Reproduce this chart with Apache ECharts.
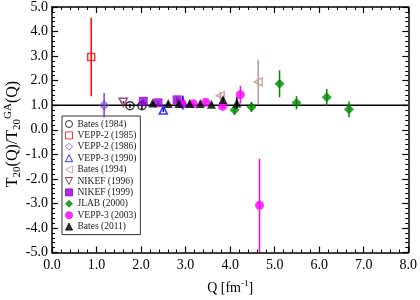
<!DOCTYPE html>
<html>
<head>
<meta charset="utf-8">
<script src="https://cdn.jsdelivr.net/npm/echarts@6/dist/echarts.min.js"></script>
<style>html,body{margin:0;padding:0;background:#fff}#c{width:420px;height:300px}</style>
</head>
<body>
<div id="c"></div>
<script>
// [Q, T20/T20GA, error]
const bates1984 = [[1.75, 0.98, 0.08], [2.02, 0.98, 0.15]];
const vepp2_1985 = [[0.88, 2.96, 1.6]];
const vepp2_1986 = [[1.17, 1.0, 0.5]];
const vepp3_1990 = [[2.50, 0.80, 0.08], [2.94, 1.10, 0.28]];
const bates1994 = [[3.78, 1.39, 0.15], [4.63, 1.95, 0.9]];
const nikef1996 = [[1.60, 1.12, 0.05]];
const nikef1999 = [[2.05, 1.16, 0.08], [2.38, 1.10, 0.06], [2.81, 1.22, 0.1]];
const jlab2000 = [[4.10, 0.80, 0.2], [4.48, 0.93, 0.2], [5.11, 1.87, 0.55], [5.49, 1.10, 0.27], [6.17, 1.32, 0.34], [6.67, 0.83, 0.32]];
const vepp3_2003 = [[2.92, 1.06, 0.05], [3.17, 1.06, 0.05], [3.45, 1.12, 0.05], [3.83, 0.95, 0.08], [4.23, 1.43, 0.36], [4.66, -3.08, 1.9]];
const bates2011 = [[2.26, 1.09, 0.04], [2.61, 1.07, 0.04], [2.85, 1.07, 0.04], [3.09, 1.07, 0.04], [3.33, 1.07, 0.04], [3.58, 1.04, 0.05], [3.84, 1.23, 0.08], [4.15, 1.09, 0.23]];
const refLine = [[0, 1], [8, 1]];
const xTicks = {min: 0, max: 8, interval: 1};
const yTicks = {min: -5, max: 5, interval: 1};

const datasets = [
  {name: 'Bates (1984)', data: bates1984, symbol: 'circle', color: '#000000', open: true, size: 8},
  {name: 'VEPP-2 (1985)', data: vepp2_1985, symbol: 'rect', color: '#ff0000', open: true, size: 7},
  {name: 'VEPP-2 (1986)', data: vepp2_1986, symbol: 'diamond', color: '#7f3fe0', open: true, size: 8},
  {name: 'VEPP-3 (1990)', data: vepp3_1990, symbol: 'triangle', color: '#0000ff', open: true, size: 8},
  {name: 'Bates (1994)', data: bates1994, symbol: 'path://M0,5 L10,0 L10,10 Z', color: '#c09494', open: true, size: 8},
  {name: 'NIKEF (1996)', data: nikef1996, symbol: 'path://M0,0 L10,0 L5,10 Z', color: '#7a1f4f', open: true, size: 8},
  {name: 'NIKEF (1999)', data: nikef1999, symbol: 'rect', color: '#9400d3', open: false, size: 9},
  {name: 'JLAB (2000)', data: jlab2000, symbol: 'diamond', color: '#008800', open: false, size: 10},
  {name: 'VEPP-3 (2003)', data: vepp3_2003, symbol: 'circle', color: '#ff00ff', open: false, size: 9},
  {name: 'Bates (2011)', data: bates2011, symbol: 'triangle', color: '#000000', open: false, size: 9}
];

const FONT = 'Liberation Serif';
const series = [];
series.push({
  type: 'line', data: refLine, symbol: 'none', silent: true,
  lineStyle: {color: '#000', width: 1.5}, z: 1
});
datasets.forEach((d, i) => {
  series.push({
    type: 'custom', name: 'err' + i, z: 2 + i * 2,
    data: d.data,
    renderItem: function (params, api) {
      const x = api.value(0), v = api.value(1), e = api.value(2);
      const lo = Math.max(-5, v - e), hi = Math.min(5, v + e);
      const p1 = api.coord([x, lo]), p2 = api.coord([x, hi]);
      return {type: 'line', shape: {x1: p1[0], y1: p1[1], x2: p2[0], y2: p2[1]},
        style: {stroke: d.color, lineWidth: 1.5}};
    },
    encode: {x: 0, y: 1}
  });
  series.push({
    type: 'scatter', name: d.name, z: 3 + i * 2,
    data: d.data.map(p => [p[0], p[1]]),
    symbol: d.symbol, symbolSize: d.size,
    itemStyle: d.open ? {color: 'rgba(255,255,255,0)', borderColor: d.color, borderWidth: 1.5}
                      : {color: d.color, borderColor: d.color, borderWidth: 0}
  });
});

function mkX(pos, labels) {
  return {
    type: 'value', position: pos, min: xTicks.min, max: xTicks.max, interval: xTicks.interval,
    axisLine: {show: true, onZero: false, lineStyle: {color: '#000', width: 1.5}},
    axisTick: {show: true, inside: true, length: 6, lineStyle: {color: '#000', width: 1.2}},
    minorTick: {show: true, splitNumber: 5, length: 3, lineStyle: {color: '#000', width: 1}},
    splitLine: {show: false}, minorSplitLine: {show: false},
    axisLabel: {show: labels, formatter: v => v.toFixed(1), fontFamily: FONT, fontSize: 14, color: '#000', margin: 6},
    name: labels ? 'Q [fm{sup|-1}]' : '', nameLocation: 'middle', nameGap: 27,
    nameTextStyle: {fontFamily: FONT, fontSize: 14, color: '#000',
      rich: {sup: {fontFamily: FONT, fontSize: 9, verticalAlign: 'top', padding: [0, 0, 8, 0], color: '#000'}}}
  };
}
function mkY(pos, labels) {
  return {
    type: 'value', position: pos, min: yTicks.min, max: yTicks.max, interval: yTicks.interval,
    axisLine: {show: true, onZero: false, lineStyle: {color: '#000', width: 1.5}},
    axisTick: {show: true, inside: true, length: 6, lineStyle: {color: '#000', width: 1.2}},
    minorTick: {show: true, splitNumber: 5, length: 3, lineStyle: {color: '#000', width: 1}},
    splitLine: {show: false}, minorSplitLine: {show: false},
    axisLabel: {show: labels, formatter: v => v.toFixed(1), fontFamily: FONT, fontSize: 14, color: '#000', margin: 4}
  };
}

const option = {
  animation: false,
  backgroundColor: '#fff',
  grid: {left: 52, right: 11, top: 6, bottom: 43, containLabel: false},
  xAxis: [mkX('bottom', true), mkX('top', false)],
  yAxis: [mkY('left', true), mkY('right', false)],
  graphic: [{
    type: 'text', x: 13, y: 134, rotation: Math.PI / 2,
    style: {
      text: 'T{sub|20}(Q)/T{sub|20}{sup|GA}(Q)',
      align: 'center', verticalAlign: 'middle',
      fontFamily: FONT, fontSize: 16, fill: '#000',
      rich: {
        sub: {fontFamily: FONT, fontSize: 11, fill: '#000', padding: [9, 0, 0, 0]},
        sup: {fontFamily: FONT, fontSize: 11, fill: '#000', padding: [0, 0, 9, 0]}
      }
    }
  }],
  legend: {
    data: datasets.map(d => d.name),
    orient: 'vertical', left: 62, top: 116,
    itemWidth: 7, itemHeight: 7, itemGap: 1.4, itemTextGap: 15,
    padding: [3, 4, 3, 3],
    borderColor: '#333', borderWidth: 1, backgroundColor: '#fff',
    itemStyle: {borderWidth: 1},
    textStyle: {fontFamily: FONT, fontSize: 9.5, lineHeight: 10, color: '#222'},
    selectedMode: false
  },
  series: series
};
const chart = echarts.init(document.getElementById('c'), null, {renderer: 'canvas'});
chart.setOption(option);
</script>
</body>
</html>
